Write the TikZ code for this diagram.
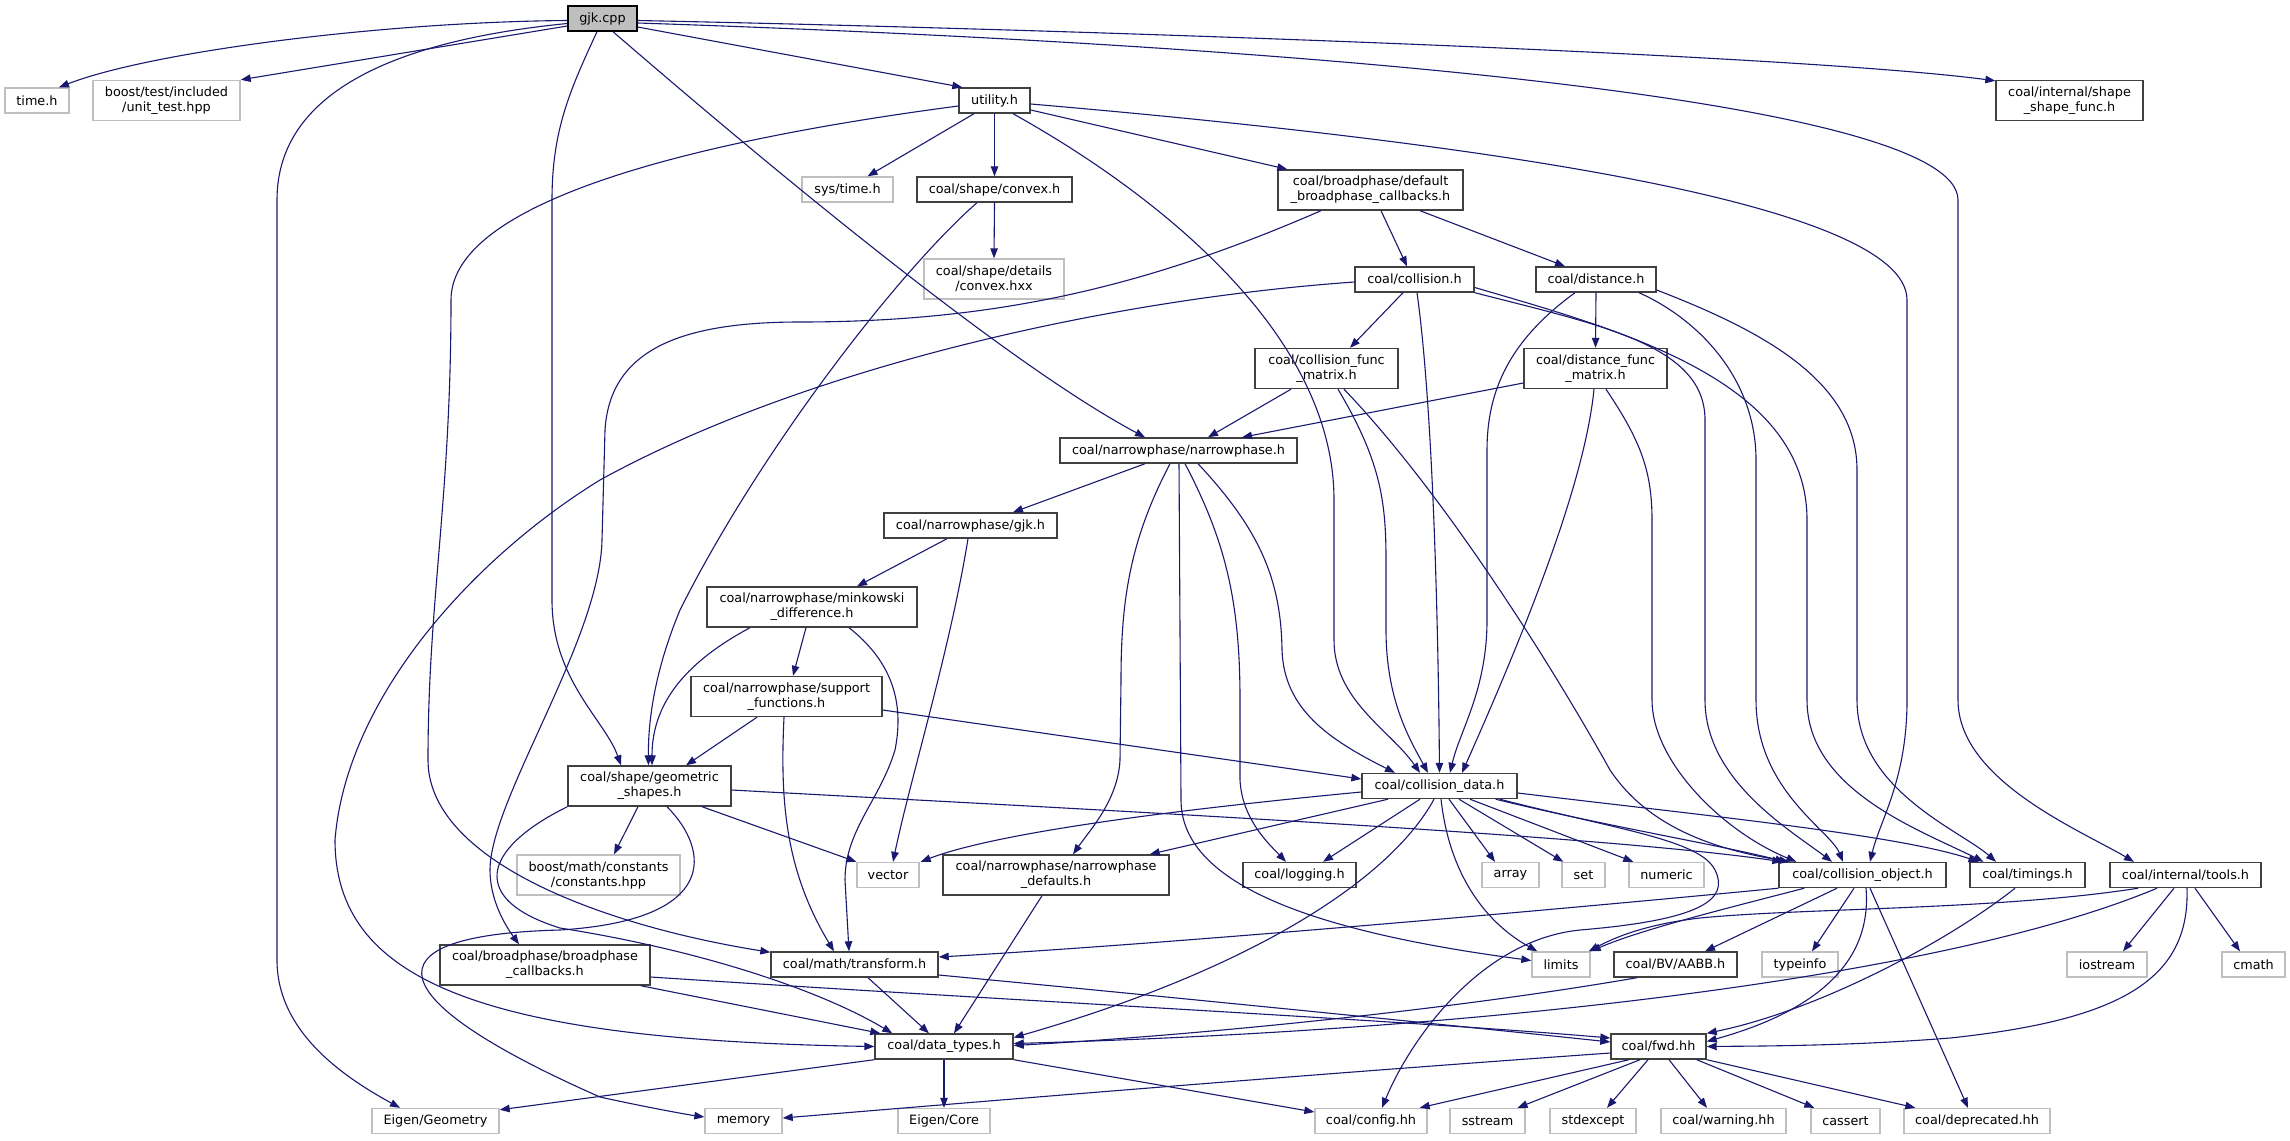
\documentclass[tikz,border=0pt]{standalone}
\usepackage{fontspec}
\setmainfont{DejaVu Sans}
\usetikzlibrary{arrows.meta}
\definecolor{edgec}{HTML}{191970}
\definecolor{docb}{HTML}{404040}
\definecolor{extb}{HTML}{BFBFBF}
\definecolor{rootf}{HTML}{BFBFBF}
\begin{document}
\begin{tikzpicture}[x=1pt,y=-1pt,
  box/.style={draw=docb, line width=1.4pt, inner sep=0pt, align=center, font=\fontsize{12.8}{15}\selectfont, minimum height=25pt},
  box2/.style={box, minimum height=40pt},
  ext/.style={box, draw=extb},
  ext2/.style={box2, draw=extb},
  root/.style={box, draw=black, fill=rootf},
  e/.style={draw=edgec, line width=1.1pt, -{Triangle[length=10pt,width=7.5pt]}},
]
\useasboundingbox[fill=white] (0,0) rectangle (2290,1140);
% nodes
\node[root, minimum width=69pt] (gjk) at (602.5,18.5) {gjk.cpp};
\node[ext, minimum width=64pt] (timeh) at (37,100.5) {time.h};
\node[ext2, minimum width=147pt] (unittest) at (166.5,100.5) {boost/test/included\\/unit\_test.hpp};
\node[box, minimum width=71pt] (utility) at (994.5,100.5) {utility.h};
\node[box2, minimum width=147pt] (shapefunc) at (2069.5,100.5) {coal/internal/shape\\\_shape\_func.h};
\node[ext, minimum width=91pt] (systime) at (847.5,189.5) {sys/time.h};
\node[box, minimum width=155pt] (convex) at (994.5,189.5) {coal/shape/convex.h};
\node[ext2, minimum width=140pt] (convexhxx) at (994,279) {coal/shape/details\\/convex.hxx};
\node[box2, minimum width=185pt] (defbc) at (1370.5,190) {coal/broadphase/default\\\_broadphase\_callbacks.h};
\node[box, minimum width=119pt] (collision) at (1414.5,279.5) {coal/collision.h};
\node[box, minimum width=120pt] (distance) at (1596,279.5) {coal/distance.h};
\node[box2, minimum width=143pt] (colfm) at (1326.5,368.5) {coal/collision\_func\\\_matrix.h};
\node[box2, minimum width=143pt] (disfm) at (1595.5,368.5) {coal/distance\_func\\\_matrix.h};
\node[box, minimum width=237pt] (narrow) at (1178.5,450.5) {coal/narrowphase/narrowphase.h};
\node[box, minimum width=173pt] (gjkh) at (970.5,525.5) {coal/narrowphase/gjk.h};
\node[box2, minimum width=210pt] (minkowski) at (812,607) {coal/narrowphase/minkowski\\\_difference.h};
\node[box2, minimum width=191pt] (support) at (786.5,696.5) {coal/narrowphase/support\\\_functions.h};
\node[box2, minimum width=163pt] (geom) at (649.5,786) {coal/shape/geometric\\\_shapes.h};
\node[box, minimum width=155pt] (coldata) at (1439.5,786) {coal/collision\_data.h};
\node[ext, minimum width=62pt] (vector) at (888,875) {vector};
\node[ext2, minimum width=163pt] (boostmath) at (598.5,875) {boost/math/constants\\/constants.hpp};
\node[box2, minimum width=226pt] (npdef) at (1056,875) {coal/narrowphase/narrowphase\\\_defaults.h};
\node[box, minimum width=113pt] (logging) at (1299.5,875) {coal/logging.h};
\node[ext, minimum width=57pt] (array) at (1510.5,875) {array};
\node[ext, minimum width=43pt] (set) at (1583.5,875) {set};
\node[ext, minimum width=75pt] (numeric) at (1666.5,875) {numeric};
\node[box, minimum width=167pt] (colobj) at (1862.5,875) {coal/collision\_object.h};
\node[box, minimum width=115pt] (timings) at (2027.5,875) {coal/timings.h};
\node[box, minimum width=151pt] (tools) at (2185.5,875) {coal/internal/tools.h};
\node[box, minimum width=167pt] (transform) at (854.5,964.5) {coal/math/transform.h};
\node[box2, minimum width=210pt] (bpcb) at (545,965) {coal/broadphase/broadphase\\\_callbacks.h};
\node[ext, minimum width=58pt] (limits) at (1561,964.5) {limits};
\node[box, minimum width=123pt] (aabb) at (1675.5,964.5) {coal/BV/AABB.h};
\node[ext, minimum width=76pt] (typeinfo) at (1800,964.5) {typeinfo};
\node[ext, minimum width=80pt] (iostream) at (2107,964.5) {iostream};
\node[ext, minimum width=63pt] (cmath) at (2253.5,964.5) {cmath};
\node[box, minimum width=138pt] (datatypes) at (944,1046.5) {coal/data\_types.h};
\node[box, minimum width=95pt] (fwd) at (1658.5,1046.5) {coal/fwd.hh};
\node[ext, minimum width=127pt] (eigengeo) at (435.5,1121) {Eigen/Geometry};
\node[ext, minimum width=77pt] (memory) at (743.5,1121) {memory};
\node[ext, minimum width=92pt] (eigencore) at (944,1121) {Eigen/Core};
\node[ext, minimum width=112pt] (config) at (1371,1121) {coal/config.hh};
\node[ext, minimum width=75pt] (sstream) at (1487.5,1121) {sstream};
\node[ext, minimum width=86pt] (stdexcept) at (1593,1121) {stdexcept};
\node[ext, minimum width=125pt] (warning) at (1723.5,1121) {coal/warning.hh};
\node[ext, minimum width=69pt] (cassert) at (1845.5,1121) {cassert};
\node[ext, minimum width=146pt] (deprecated) at (1977,1121) {coal/deprecated.hh};
% edges from gjk.cpp
\draw[e] ([yshift=-2pt]gjk.west) .. controls (380,22) and (150,52) .. ([xshift=22pt]timeh.north);
\draw[e] ([yshift=-7.5pt]gjk.west) -- (unittest.north east);
\draw[e] ([yshift=-5pt]gjk.west) .. controls (400,40) and (277,90) .. (277,200) -- (277,960) .. controls (277,1030) and (340,1075) .. ([xshift=-35.5pt]eigengeo.north);
\draw[e] ([xshift=-5.5pt]gjk.south) .. controls (570,90) and (552,130) .. (552,200) -- (552,600) .. controls (552,680) and (605,720) .. ([xshift=-28.5pt]geom.north);
\draw[e] ([xshift=10.5pt]gjk.south) .. controls (750,150) and (1000,360) .. ([xshift=-33.5pt]narrow.north);
\draw[e] ([yshift=-8.5pt]gjk.east) -- ([xshift=4pt]utility.north west);
\draw[e] ([yshift=-2pt]gjk.east) .. controls (1100,30) and (1800,55) .. ([yshift=-1pt]shapefunc.north west);
\draw[e] ([yshift=-4.5pt]gjk.east) .. controls (1300,45) and (1958,100) .. (1958,200) -- (1958,700) .. controls (1958,780) and (2080,830) .. ([xshift=-51.5pt]tools.north);
% utility.h
\draw[e] ([xshift=-20.5pt]utility.south) -- ([xshift=20pt]systime.north);
\draw[e] (utility.south) -- (convex.north);
\draw[e] ([yshift=-9.5pt]utility.east) -- ([xshift=10pt]defbc.north west);
\draw[e] ([yshift=-3.5pt]utility.east) .. controls (1450,140) and (1907,200) .. (1907,300) -- (1907,700) .. controls (1907,780) and (1880,820) .. ([xshift=7.5pt]colobj.north);
\draw[e] ([yshift=-5.5pt]utility.west) .. controls (700,140) and (451,200) .. (451,300) .. controls (451,500) and (428,600) .. (428,760) .. controls (428,860) and (600,925) .. ([yshift=-1pt]transform.north west);
\draw[e] ([xshift=18.5pt]utility.south) .. controls (1150,190) and (1334,330) .. (1334,500) -- (1334,640) .. controls (1334,700) and (1390,730) .. ([xshift=-19.5pt]coldata.north);
% convex.h
\draw[e] (convex.south) -- (convexhxx.north);
\draw[e] ([xshift=-17.5pt]convex.south) .. controls (900,270) and (760,450) .. (680,610) .. controls (655,670) and (648,720) .. ([xshift=-1pt]geom.north);
% default broadphase callbacks
\draw[e] ([xshift=10.5pt]defbc.south) -- ([xshift=-7.5pt]collision.north);
\draw[e] ([xshift=49.5pt]defbc.south) -- ([xshift=-31pt]distance.north);
\draw[e] ([xshift=-49.5pt]defbc.south) .. controls (1150,285) and (1000,322) .. (800,322) .. controls (680,322) and (610,350) .. (605,430) -- (602,540) .. controls (600,640) and (490,800) .. (490,870) .. controls (490,900) and (505,925) .. ([xshift=-26pt]bpcb.north);
% collision.h
\draw[e] ([xshift=-11.5pt]collision.south) -- ([xshift=23.5pt]colfm.north);
\draw[e] ([xshift=2.5pt]collision.south) .. controls (1432,400) and (1438,600) .. (coldata.north);
\draw[e] ([yshift=-2.5pt]collision.west) .. controls (1100,300) and (800,370) .. (600,480) .. controls (470,560) and (346,700) .. (335,840) .. controls (335,980) and (480,1040) .. (datatypes.west);
\draw[e] (collision.south east) .. controls (1600,325) and (1705,345) .. (1705,420) -- (1705,700) .. controls (1705,780) and (1790,830) .. ([xshift=-30.5pt]colobj.north);
\draw[e] ([yshift=-8pt]collision.east) .. controls (1620,330) and (1807,380) .. (1807,520) -- (1807,700) .. controls (1807,790) and (1920,830) .. ([xshift=-44pt]timings.north);
% distance.h
\draw[e] (distance.south) -- (disfm.north);
\draw[e] ([xshift=-21pt]distance.south) .. controls (1510,340) and (1487,390) .. (1487,450) -- (1487,620) .. controls (1487,690) and (1460,730) .. ([xshift=10.5pt]coldata.north);
\draw[e] ([xshift=43pt]distance.south) .. controls (1700,320) and (1756,380) .. (1756,460) -- (1756,700) .. controls (1756,790) and (1830,830) .. ([xshift=-19.5pt]colobj.north);
\draw[e] ([yshift=-10.5pt]distance.east) .. controls (1760,330) and (1857,380) .. (1857,470) -- (1857,700) .. controls (1857,790) and (1960,830) .. ([xshift=-31.5pt]timings.north);
% collision_func_matrix
\draw[e] ([xshift=-35.5pt]colfm.south) -- ([xshift=29.5pt]narrow.north);
\draw[e] ([xshift=11.5pt]colfm.south) .. controls (1380,460) and (1386,500) .. (1386,560) -- (1386,630) .. controls (1386,700) and (1410,740) .. ([xshift=-11.5pt]coldata.north);
\draw[e] ([xshift=17.5pt]colfm.south) .. controls (1450,500) and (1560,680) .. (1610,770) .. controls (1650,830) and (1720,850) .. ([xshift=11pt]colobj.north west);
% distance_func_matrix
\draw[e] ([yshift=-14.5pt]disfm.west) -- ([xshift=63.5pt]narrow.north);
\draw[e] ([xshift=-1.5pt]disfm.south) .. controls (1585,480) and (1530,620) .. ([xshift=22.5pt]coldata.north);
\draw[e] ([xshift=10.5pt]disfm.south) .. controls (1640,440) and (1652,470) .. (1652,520) -- (1652,700) .. controls (1652,760) and (1720,830) .. ([xshift=18pt]colobj.north west);
% narrowphase.h
\draw[e] ([xshift=-33.5pt]narrow.south) -- ([xshift=42.5pt]gjkh.north);
\draw[e] ([xshift=-8.5pt]narrow.south) .. controls (1130,540) and (1121,600) .. (1121,680) -- (1120,760) .. controls (1118,800) and (1090,830) .. ([xshift=17pt]npdef.north);
\draw[e] ([xshift=0.5pt]narrow.south) -- (1181,800) .. controls (1181,880) and (1300,930) .. ([yshift=4pt]limits.west);
\draw[e] ([xshift=6.5pt]narrow.south) .. controls (1225,540) and (1240,600) .. (1240,700) -- (1240,780) .. controls (1242,820) and (1270,845) .. ([xshift=-13.5pt]logging.north);
\draw[e] ([xshift=19.5pt]narrow.south) .. controls (1260,530) and (1281,580) .. (1282,650) .. controls (1284,710) and (1330,740) .. ([xshift=-44.5pt]coldata.north);
% gjk.h
\draw[e] ([xshift=-23.5pt]gjkh.south) -- ([xshift=45pt]minkowski.north);
\draw[e] ([xshift=-2.5pt]gjkh.south) .. controls (950,650) and (910,780) .. ([xshift=5pt]vector.north);
% minkowski
\draw[e] ([xshift=-62pt]minkowski.south) .. controls (690,660) and (652,700) .. ([xshift=2.5pt]geom.north);
\draw[e] ([xshift=-6pt]minkowski.south) -- ([xshift=6.5pt]support.north);
\draw[e] ([xshift=37pt]minkowski.south) .. controls (890,660) and (905,700) .. (895,750) .. controls (880,800) and (845,830) .. (845,880) -- ([xshift=-5.5pt]transform.north);
% support functions
\draw[e] ([xshift=-29.5pt]support.south) -- ([xshift=36.5pt]geom.north);
\draw[e] ([xshift=-2.5pt]support.south) .. controls (780,800) and (785,870) .. ([xshift=-20.5pt]transform.north);
\draw[e] ([yshift=-13.5pt]support.east) -- ([yshift=7pt]coldata.west);
% geometric shapes
\draw[e] ([xshift=-11.5pt]geom.south) -- ([xshift=15.5pt]boostmath.north);
\draw[e] ([xshift=52.5pt]geom.south) -- (vector.north west);
\draw[e] ([xshift=17.5pt]geom.south) .. controls (710,850) and (720,920) .. (560,930) .. controls (360,935) and (380,1000) .. (600,1097) .. controls (650,1108) and (690,1115) .. ([yshift=4pt]memory.west);
\draw[e] (geom.south west) .. controls (480,850) and (470,900) .. (560,928) .. controls (700,950) and (820,990) .. ([xshift=18pt]datatypes.north west);
\draw[e] ([yshift=-4pt]geom.east) .. controls (1100,810) and (1600,835) .. ([xshift=4pt]colobj.north west);
% collision_data.h
\draw[e] ([yshift=-6pt]coldata.west) .. controls (1150,812) and (990,835) .. ([xshift=1pt]vector.north east);
\draw[e] ([xshift=-51.5pt]coldata.south) -- ([xshift=-20pt]npdef.north east);
\draw[e] ([xshift=-19.5pt]coldata.south) -- ([xshift=23.5pt]logging.north);
\draw[e] ([xshift=-5.5pt]coldata.south) .. controls (1390,880) and (1250,970) .. ([yshift=9pt]datatypes.east);
\draw[e] ([xshift=1.5pt]coldata.south) .. controls (1450,880) and (1490,925) .. ([xshift=6pt]limits.north west);
\draw[e] ([xshift=9.5pt]coldata.south) -- ([xshift=-15.5pt]array.north);
\draw[e] ([xshift=19.5pt]coldata.south) -- ([xshift=2pt]set.north west);
\draw[e] ([xshift=30.5pt]coldata.south) -- ([xshift=5pt]numeric.north west);
\draw[e] ([xshift=-22pt]coldata.south east) .. controls (1600,825) and (1720,845) .. ([xshift=7pt]colobj.north west);
\draw[e] ([yshift=-7pt]coldata.east) .. controls (1700,815) and (1900,835) .. ([xshift=-49pt]timings.north);
\draw[e] ([xshift=-18pt]coldata.south east) .. controls (1620,830) and (1700,840) .. (1715,870) .. controls (1730,900) and (1700,920) .. (1580,930) .. controls (1480,940) and (1410,1040) .. ([xshift=11pt]config.north);
% collision_object.h
\draw[e] (colobj.south west) .. controls (1500,915) and (1150,945) .. ([yshift=7.5pt]transform.east);
\draw[e] ([xshift=26pt]colobj.south west) .. controls (1720,910) and (1640,930) .. (limits.north east);
\draw[e] ([xshift=-25.5pt]colobj.south) -- ([xshift=29.5pt]aabb.north);
\draw[e] ([xshift=-8.5pt]colobj.south) -- ([xshift=12pt]typeinfo.north);
\draw[e] ([xshift=3.5pt]colobj.south) .. controls (1872,960) and (1820,1010) .. ([yshift=5pt]fwd.east);
\draw[e] ([xshift=7.5pt]colobj.south) -- ([xshift=-9pt]deprecated.north);
% timings
\draw[e] ([xshift=-12.5pt]timings.south) .. controls (1950,940) and (1820,1010) .. (fwd.north east);
% tools
\draw[e] ([xshift=-47.5pt]tools.south) .. controls (2000,910) and (1800,908) .. (1700,918) .. controls (1640,925) and (1610,940) .. ([xshift=-2pt]limits.north east);
\draw[e] ([xshift=-28.5pt]tools.south) .. controls (1950,975) and (1500,1030) .. ([yshift=3pt]datatypes.east);
\draw[e] ([xshift=-11.5pt]tools.south) -- ([xshift=16pt]iostream.north);
\draw[e] ([xshift=1.5pt]tools.south) .. controls (2190,980) and (2120,1020) .. (1950,1038) .. controls (1850,1046) and (1760,1046) .. (fwd.east);
\draw[e] ([xshift=9.5pt]tools.south) -- ([xshift=-13.5pt]cmath.north);
% transform
\draw[e] ([xshift=13.5pt]transform.south) -- ([xshift=-15pt]datatypes.north);
\draw[e] ([yshift=-10.5pt]transform.east) .. controls (1150,995) and (1450,1025) .. ([yshift=4.5pt]fwd.west);
% broadphase callbacks
\draw[e] ([xshift=-10pt]bpcb.south east) -- ([xshift=6pt]datatypes.north west);
\draw[e] ([yshift=-12pt]bpcb.east) .. controls (1000,1000) and (1400,1020) .. ([yshift=8.5pt]fwd.west);
% narrowphase defaults
\draw[e] ([xshift=-14pt]npdef.south) -- ([xshift=10pt]datatypes.north);
% AABB
\draw[e] ([xshift=-38.5pt]aabb.south) .. controls (1450,1010) and (1200,1035) .. ([yshift=1pt]datatypes.east);
% data_types
\draw[e] (datatypes.south west) -- ([yshift=-2pt]eigengeo.north east);
\draw[e] (datatypes.south) -- (eigencore.north);
\draw[e] (datatypes.south east) -- ([yshift=9pt]config.west);
% fwd.hh
\draw[e] ([yshift=-6.5pt]fwd.west) .. controls (1300,1075) and (1000,1100) .. ([yshift=3pt]memory.east);
\draw[e] ([xshift=-29.5pt]fwd.south) -- ([xshift=-8pt]config.north east);
\draw[e] ([xshift=-18.5pt]fwd.south) -- ([xshift=30pt]sstream.north);
\draw[e] ([xshift=-10.5pt]fwd.south) -- ([xshift=14pt]stdexcept.north);
\draw[e] ([xshift=10.5pt]fwd.south) -- ([xshift=-16.5pt]warning.north);
\draw[e] ([xshift=-10pt]fwd.south east) -- ([xshift=4pt]cassert.north west);
\draw[e] (fwd.south east) -- ([xshift=12pt]deprecated.north west);
\end{tikzpicture}
\end{document}
